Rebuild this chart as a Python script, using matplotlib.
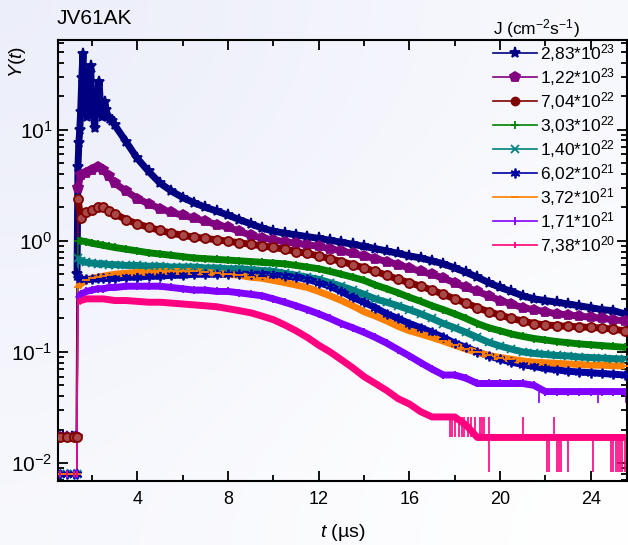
import matplotlib.pyplot as plt
from matplotlib.lines import Line2D
from matplotlib.colors import LinearSegmentedColormap
import numpy as np

plt.rcParams['font.family'] = ['Liberation Sans', 'DejaVu Sans']
plt.rcParams['mathtext.fontset'] = 'custom'
plt.rcParams['mathtext.rm'] = 'Liberation Sans'
plt.rcParams['mathtext.it'] = 'Liberation Sans:italic'

# sample times (us)
t_early = [0.6, 0.9, 1.2, 1.33, 1.38, 1.5, 1.75, 2.0, 2.25, 2.5, 2.75]
t_main = np.arange(3.0, 25.6, 0.5)

# strongest flux: spiky peak read finely
t_peak = [0.7, 0.9, 1.1, 1.3, 1.34, 1.38, 1.42, 1.46, 1.5, 1.55, 1.6, 1.65, 1.7, 1.75,
          1.8, 1.85, 1.9, 1.94, 2.0, 2.05, 2.12, 2.16, 2.2, 2.25, 2.31, 2.38, 2.45, 2.56,
          2.63, 2.7, 2.8, 2.9]
y_peak = [0.017, 0.017, 0.017, 0.017, 0.5, 4.6, 7.6, 10, 14.5, 29, 48, 25, 18, 19,
          13, 26, 32, 37, 17, 15, 10.3, 16, 21, 19, 27, 16, 13, 17.8,
          15, 13, 12.5, 12]

labels = ['2,83*10$^{23}$', '1,22*10$^{23}$', '7,04*10$^{22}$', '3,03*10$^{22}$',
          '1,40*10$^{22}$', '6,02*10$^{21}$', '3,72*10$^{21}$', '1,71*10$^{21}$',
          '7,38*10$^{20}$']
colors = ['#000080', '#800080', '#800000', '#008000', '#008080', '#0000a0',
          '#ff8000', '#8000ff', '#ff0080']
markers = ['*', 'p', 'o', '+', 'x', (6, 2, 0), '_', '|', '|']

y1_main = [11.0, 7.8, 5.5, 4.2, 3.3, 2.8, 2.45, 2.2, 2.0, 1.85, 1.7, 1.55, 1.42, 1.3,
           1.22, 1.17, 1.13, 1.09, 1.05, 1.01, 0.97, 0.93, 0.89, 0.85, 0.81, 0.77, 0.73,
           0.7, 0.66, 0.62, 0.57, 0.52, 0.47, 0.42, 0.38, 0.35, 0.32, 0.30, 0.29, 0.28,
           0.27, 0.26, 0.25, 0.24, 0.235, 0.22]

y2_early = [0.017, 0.017, 0.017, 0.017, 3.0, 3.9, 4.1, 4.3, 4.6, 4.3, 3.8]
y2_main = [3.3, 2.8, 2.4, 2.15, 1.95, 1.8, 1.7, 1.6, 1.5, 1.4, 1.32, 1.22, 1.12, 1.06,
           1.02, 0.98, 0.95, 0.92, 0.89, 0.85, 0.81, 0.77, 0.73, 0.69, 0.65, 0.61, 0.57,
           0.53, 0.5, 0.46, 0.42, 0.38, 0.35, 0.32, 0.29, 0.27, 0.25, 0.24, 0.23, 0.22,
           0.215, 0.21, 0.205, 0.2, 0.195, 0.19]

y3_early = [0.017, 0.017, 0.017, 0.017, 2.4, 1.6, 1.8, 1.9, 2.0, 2.0, 1.85]
y3_main = [1.75, 1.55, 1.42, 1.32, 1.24, 1.17, 1.12, 1.08, 1.05, 1.02, 0.99, 0.96, 0.93,
           0.9, 0.87, 0.84, 0.8, 0.77, 0.73, 0.69, 0.65, 0.61, 0.57, 0.53, 0.49, 0.45,
           0.42, 0.39, 0.36, 0.33, 0.3, 0.275, 0.25, 0.23, 0.215, 0.2, 0.19, 0.18, 0.175,
           0.172, 0.17, 0.168, 0.166, 0.164, 0.16, 0.155]

y4_early = [0.008, 0.008, 0.008, 0.008, 1.0, 1.0, 0.98, 0.95, 0.93, 0.91, 0.89]
y4_main = [0.87, 0.84, 0.81, 0.78, 0.76, 0.74, 0.72, 0.7, 0.69, 0.68, 0.67, 0.66, 0.65,
           0.64, 0.63, 0.62, 0.6, 0.58, 0.56, 0.53, 0.5, 0.47, 0.44, 0.4, 0.37, 0.34,
           0.31, 0.285, 0.26, 0.24, 0.22, 0.2, 0.18, 0.165, 0.155, 0.145, 0.138, 0.132,
           0.128, 0.124, 0.121, 0.118, 0.116, 0.114, 0.112, 0.11]

y5_early = [0.008, 0.008, 0.008, 0.008, 0.7, 0.66, 0.64, 0.63, 0.62, 0.62, 0.61]
y5_main = [0.61, 0.6, 0.6, 0.59, 0.59, 0.58, 0.58, 0.58, 0.57, 0.57, 0.56, 0.56, 0.55,
           0.54, 0.53, 0.51, 0.49, 0.47, 0.45, 0.42, 0.39, 0.36, 0.33, 0.3, 0.28, 0.26,
           0.24, 0.22, 0.2, 0.18, 0.165, 0.15, 0.135, 0.122, 0.113, 0.106, 0.1, 0.097,
           0.095, 0.093, 0.092, 0.09, 0.089, 0.088, 0.087, 0.086]

y6_early = [0.008, 0.008, 0.008, 0.008, 0.47, 0.45, 0.45, 0.45, 0.46, 0.46, 0.46]
y6_main = [0.46, 0.47, 0.47, 0.48, 0.48, 0.49, 0.49, 0.5, 0.5, 0.5, 0.5, 0.5, 0.5, 0.5,
           0.49, 0.48, 0.47, 0.45, 0.42, 0.39, 0.35, 0.31, 0.28, 0.25, 0.22, 0.2, 0.18,
           0.165, 0.15, 0.135, 0.12, 0.11, 0.1, 0.092, 0.086, 0.081, 0.077, 0.074, 0.071,
           0.069, 0.067, 0.066, 0.065, 0.064, 0.063, 0.062]

y7_early = [0.008, 0.008, 0.008, 0.008, 0.38, 0.41, 0.44, 0.46, 0.47, 0.48, 0.49]
y7_main = [0.5, 0.51, 0.52, 0.52, 0.53, 0.53, 0.53, 0.53, 0.52, 0.51, 0.5, 0.49, 0.47,
           0.46, 0.44, 0.42, 0.4, 0.38, 0.35, 0.32, 0.29, 0.26, 0.23, 0.21, 0.19, 0.17,
           0.155, 0.145, 0.135, 0.125, 0.115, 0.106, 0.099, 0.093, 0.089, 0.086, 0.083,
           0.081, 0.08, 0.079, 0.078, 0.077, 0.076, 0.076, 0.075, 0.075]

y8_early = [0.008, 0.008, 0.008, 0.008, 0.3, 0.33, 0.35, 0.36, 0.37, 0.37, 0.38]
y8_main = [0.38, 0.39, 0.39, 0.39, 0.39, 0.38, 0.37, 0.36, 0.36, 0.35, 0.35, 0.34, 0.33,
           0.32, 0.3, 0.28, 0.26, 0.24, 0.22, 0.2, 0.18, 0.165, 0.15, 0.135, 0.12, 0.105,
           0.092, 0.08, 0.07, 0.062, 0.062, 0.058, 0.052, 0.052, 0.052, 0.052, 0.052,
           0.05, 0.044, 0.044, 0.044, 0.044, 0.044, 0.044, 0.044, 0.044]

y9_early = [0.008, 0.008, 0.008, 0.008, 0.28, 0.29, 0.3, 0.3, 0.3, 0.3, 0.295]
y9_main = [0.29, 0.29, 0.285, 0.28, 0.28, 0.275, 0.27, 0.265, 0.26, 0.255, 0.245, 0.235,
           0.225, 0.21, 0.195, 0.175, 0.155, 0.135, 0.115, 0.1, 0.085, 0.072, 0.06,
           0.052, 0.045, 0.038, 0.034, 0.029, 0.026, 0.026, 0.026, 0.022, 0.017, 0.017,
           0.017, 0.017, 0.017, 0.017, 0.017, 0.017, 0.017, 0.017, 0.017, 0.017, 0.017,
           0.017]

# single-sample dropouts of the weakest signals (digitiser floor)
pink_drop_t = [19.5, 22.05, 22.15, 22.5, 22.6, 22.7, 23.0, 24.1, 24.9, 25.0, 25.1,
               25.2, 25.3, 25.4, 25.5]
pink_jump_t = [17.8, 17.9, 18.0, 18.2, 18.3, 18.4, 18.6, 18.7, 18.9, 19.1, 19.2, 19.3,
               19.5, 21.0, 22.4]
violet_drop_t = [21.7, 24.3, 25.55]

series = [
    (t_peak, y_peak, list(t_main), y1_main),
    (t_early, y2_early, list(t_main), y2_main),
    (t_early, y3_early, list(t_main), y3_main),
    (t_early, y4_early, list(t_main), y4_main),
    (t_early, y5_early, list(t_main), y5_main),
    (t_early, y6_early, list(t_main), y6_main),
    (t_early, y7_early, list(t_main), y7_main),
    (t_early, y8_early, list(t_main), y8_main),
    (t_early, y9_early, list(t_main), y9_main),
]
msizes = [8, 7, 6.5, 6, 6, 7, 6, 6, 5]

fig = plt.figure(figsize=(6.28, 5.45), dpi=100)

# soft lavender backdrop
bg = fig.add_axes([0, 0, 1, 1], zorder=-10)
grad = np.array([[0.0, 0.6], [0.6, 1.0]])
cm = LinearSegmentedColormap.from_list('bg', ['#eceefa', '#ffffff'])
bg.imshow(grad, cmap=cm, aspect='auto', interpolation='bicubic', extent=[0, 1, 0, 1])
bg.axis('off')

ax = fig.add_axes([58 / 628, 1 - 481 / 545, 569 / 628, 441 / 545])
ax.set_facecolor('none')
ax.set_yscale('log')

for k, (te, ye, tm, ym) in enumerate(series):
    tt = list(te) + tm
    yy = list(ye) + ym
    c = colors[k]
    ax.plot(tt, yy, color=c, lw=1.0, zorder=2 + k * 0.01)
    ax.plot(tt[4:], yy[4:], color=c, lw=5, solid_capstyle='butt', zorder=2 + k * 0.01)
    if k == 2:
        ax.plot(tt, yy, ls='none', marker='o', ms=msizes[k], mfc='#a84848', mec=c,
                mew=1.3, zorder=3)
    else:
        ax.plot(tt, yy, ls='none', marker=markers[k], ms=msizes[k], color=c, mec=c,
                mew=1.3, zorder=3)

ax.vlines(pink_drop_t, 0.0083, 0.017, color=colors[8], lw=1.2, zorder=2)
ax.vlines(pink_jump_t, 0.017, 0.026, color=colors[8], lw=1.2, zorder=2)
ax.vlines(violet_drop_t, 0.035, 0.044, color=colors[7], lw=1.2, zorder=2)

ax.set_xlim(0.5, 25.6)
ax.set_ylim(0.0069, 64)
ax.set_xticks([4, 8, 12, 16, 20, 24])
ax.set_xticks([2, 6, 10, 14, 18, 22], minor=True)
ax.set_yticks([0.01, 0.1, 1, 10])
ax.set_yticklabels(['10$^{-2}$', '10$^{-1}$', '10$^{0}$', '10$^{1}$'])
ax.tick_params(which='both', direction='in', top=True, right=True, width=1.3)
ax.tick_params(which='major', length=7)
ax.tick_params(which='minor', length=4)
ax.tick_params(axis='x', labelsize=13, pad=7)
ax.tick_params(axis='y', labelsize=15, pad=4)
for s in ax.spines.values():
    s.set_linewidth(1.5)

ax.set_xlabel('$t$ (\u00b5s)', fontsize=14, labelpad=10)
fig.text(18 / 628, 1 - 62 / 545, '$Y$($t$)', rotation=90, ha='center', va='center',
         fontsize=14)
fig.text(57 / 628, 1 - 18 / 545, 'JV61AK', fontsize=15, va='center')

handles = []
for k in range(9):
    if k == 2:
        h = Line2D([], [], color=colors[k], lw=1.2, marker='o', ms=6, mfc=colors[k],
                   mec=colors[k])
    else:
        h = Line2D([], [], color=colors[k], lw=1.2, marker=markers[k], ms=msizes[k],
                   mec=colors[k], mew=1.3)
    handles.append(h)

leg = fig.legend(handles, labels, loc='upper left', bbox_to_anchor=(481 / 628, 1 - 5 / 545),
                 frameon=False, fontsize=12.5, handlelength=2.5, handletextpad=0.2,
                 labelspacing=0.12, title='J (cm$^{-2}$s$^{-1}$)', title_fontsize=12.5,
                 alignment='left', borderpad=0.2)

fig.savefig('out.png', dpi=100)
